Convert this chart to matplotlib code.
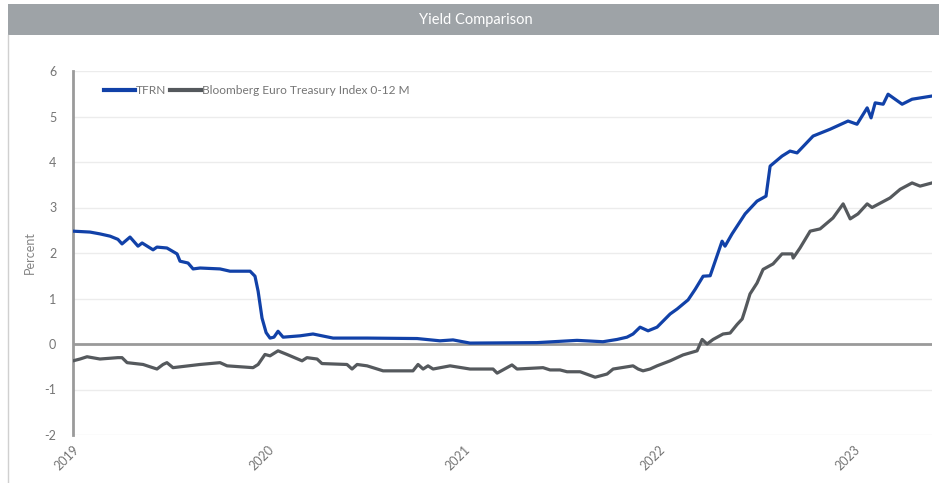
import matplotlib
matplotlib.use("Agg")
import matplotlib.pyplot as plt
from matplotlib.patches import Rectangle
from matplotlib.lines import Line2D

# ---- data (decimal years) ----
tfrn_t = [0.000, 0.087, 0.138, 0.190, 0.230, 0.251, 0.292, 0.333, 0.354, 0.410,
          0.430, 0.481, 0.533, 0.548, 0.589, 0.615, 0.651, 0.753, 0.804, 0.907,
          0.932, 0.948, 0.968, 0.989, 1.009, 1.029, 1.050, 1.076, 1.163, 1.229,
          1.332, 1.506, 1.762, 1.879, 1.946, 2.033, 2.376, 2.581, 2.714, 2.786,
          2.837, 2.868, 2.904, 2.945, 2.991, 3.058, 3.094, 3.150, 3.186, 3.227,
          3.263, 3.324, 3.339, 3.375, 3.442, 3.503, 3.549, 3.570, 3.631, 3.672,
          3.708, 3.790, 3.877, 3.969, 4.015, 4.067, 4.087, 4.108, 4.149, 4.174,
          4.246, 4.297, 4.399]
tfrn_v = [2.48, 2.46, 2.42, 2.37, 2.30, 2.20, 2.35, 2.15, 2.22, 2.07,
          2.13, 2.11, 1.98, 1.82, 1.78, 1.65, 1.67, 1.65, 1.60, 1.60,
          1.49, 1.16, 0.57, 0.25, 0.13, 0.15, 0.28, 0.15, 0.18, 0.22,
          0.13, 0.13, 0.12, 0.07, 0.09, 0.02, 0.03, 0.08, 0.05, 0.10,
          0.15, 0.22, 0.37, 0.29, 0.37, 0.66, 0.77, 0.97, 1.20, 1.49,
          1.50, 2.26, 2.15, 2.42, 2.86, 3.14, 3.25, 3.91, 4.13, 4.24,
          4.20, 4.57, 4.72, 4.90, 4.83, 5.19, 4.97, 5.30, 5.27, 5.49,
          5.27, 5.38, 5.45]

bbg_t = [0.000, 0.036, 0.072, 0.138, 0.230, 0.251, 0.277, 0.359, 0.394, 0.430,
         0.461, 0.481, 0.512, 0.650, 0.753, 0.789, 0.922, 0.948, 0.983, 1.009,
         1.050, 1.096, 1.173, 1.198, 1.250, 1.275, 1.403, 1.429, 1.455, 1.506,
         1.588, 1.741, 1.767, 1.793, 1.818, 1.844, 1.931, 2.033, 2.151, 2.172,
         2.248, 2.274, 2.407, 2.443, 2.494, 2.530, 2.597, 2.674, 2.735, 2.766,
         2.868, 2.894, 2.919, 2.955, 2.991, 3.058, 3.124, 3.196, 3.222, 3.247,
         3.278, 3.329, 3.365, 3.401, 3.427, 3.442, 3.467, 3.503, 3.534, 3.585,
         3.631, 3.683, 3.688, 3.723, 3.775, 3.826, 3.892, 3.944, 3.980, 4.020,
         4.067, 4.092, 4.184, 4.236, 4.297, 4.338, 4.399]
bbg_v = [-0.37, -0.33, -0.28, -0.33, -0.30, -0.30, -0.41, -0.45, -0.50, -0.55,
         -0.45, -0.41, -0.52, -0.45, -0.41, -0.48, -0.52, -0.45, -0.23, -0.26,
         -0.15, -0.23, -0.37, -0.30, -0.33, -0.43, -0.45, -0.55, -0.45, -0.48,
         -0.59, -0.59, -0.45, -0.55, -0.48, -0.55, -0.48, -0.55, -0.55, -0.64,
         -0.46, -0.55, -0.52, -0.57, -0.57, -0.61, -0.61, -0.73, -0.66, -0.55,
         -0.48, -0.55, -0.59, -0.55, -0.48, -0.37, -0.24, -0.15, 0.10, 0.00,
         0.10, 0.22, 0.24, 0.43, 0.55, 0.75, 1.10, 1.34, 1.64, 1.76,
         1.98, 1.98, 1.89, 2.11, 2.48, 2.53, 2.77, 3.08, 2.75, 2.86,
         3.08, 3.00, 3.21, 3.40, 3.54, 3.47, 3.54]

year_ticks = [2019, 2020, 2021, 2022, 2023]
series_names = ["TFRN", "Bloomberg Euro Treasury Index 0-12 M"]
title = "Yield Comparison"

tfrn_x = [2019 + t for t in tfrn_t]
bbg_x = [2019 + t for t in bbg_t]

plt.rcParams['font.family'] = ['Lato', 'DejaVu Sans']
plt.rcParams['axes.unicode_minus'] = False

W, H = 939, 483
fig = plt.figure(figsize=(W / 100, H / 100), dpi=100)
fig.patch.set_facecolor('white')

# title bar
fig.patches.append(Rectangle((8 / W, 1 - 35 / H), 1 - 8 / W, 31 / H,
                             transform=fig.transFigure, facecolor='#9ea3a7',
                             edgecolor='none', zorder=0))
fig.text(476 / W, 1 - 20 / H, title, color='white', fontsize=10.5,
         ha='center', va='center')
# left border of panel
fig.lines.append(Line2D([8 / W, 8 / W], [0, 1 - 35 / H], transform=fig.transFigure,
                        color='#d0d0d0', lw=1))

ax = fig.add_axes([73 / W, 1 - 435 / H, (932 - 73) / W, (435 - 71) / H])
ax.set_xlim(2019, 2019 + 4.399)
ax.set_ylim(-2, 6)

blue = '#1141a8'
grey = '#55595d'
ax.plot(tfrn_x, tfrn_v, color=blue, lw=2.3, label=series_names[0], zorder=3,
        solid_joinstyle='round')
ax.plot(bbg_x, bbg_v, color=grey, lw=2.3, label=series_names[1], zorder=3,
        solid_joinstyle='round')

ax.set_yticks(range(-2, 7))
ax.grid(axis='y', color='#ececec', lw=1)
ax.axhline(0, color='#9a9a9a', lw=2, zorder=2)
for s in ['top', 'right', 'bottom']:
    ax.spines[s].set_visible(False)
ax.spines['left'].set_color('#9a9a9a')
ax.spines['left'].set_linewidth(2)

ax.set_xticks(year_ticks)
ax.set_xticklabels([str(y) for y in year_ticks], rotation=45, ha='right',
                   rotation_mode='anchor')
ax.tick_params(axis='x', length=0, pad=6, labelsize=9, labelcolor='#757575')
ax.tick_params(axis='y', length=0, pad=12, labelsize=9, labelcolor='#757575')
ax.set_ylabel("Percent", color='#858585', fontsize=9, labelpad=6)

leg = ax.legend(loc='upper left', bbox_to_anchor=(0.03, 0.975), ncol=2,
                frameon=False, fontsize=8.6, handlelength=2.6, handletextpad=0.1,
                columnspacing=0.3, borderaxespad=0)
for txt in leg.get_texts():
    txt.set_color('#757575')
for ln in leg.get_lines():
    ln.set_linewidth(3)

fig.savefig("out.png", dpi=100)
